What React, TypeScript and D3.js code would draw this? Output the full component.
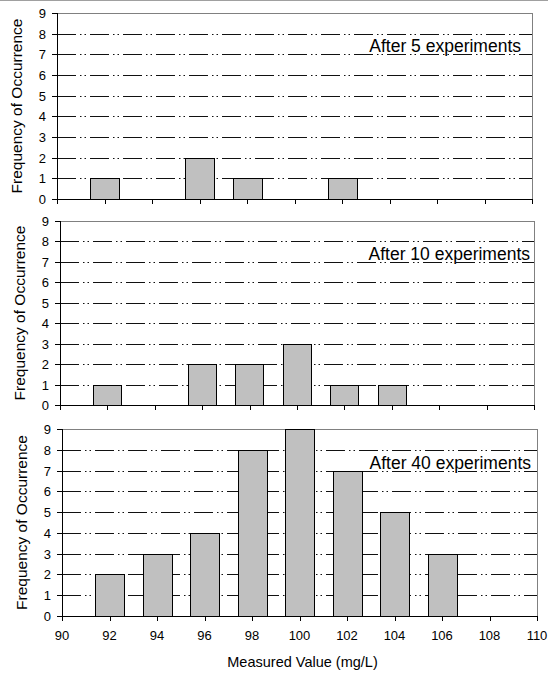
import * as d3 from "d3";

// histogram bins (mg/L) and counts per stage
const binCenters = [92, 94, 96, 98, 100, 102, 104, 106, 108];
const counts5 = [1, 0, 2, 1, 0, 1, 0, 0, 0];
const counts10 = [1, 0, 2, 2, 3, 1, 1, 0, 0];
const counts40 = [2, 3, 4, 8, 9, 7, 5, 3, 0];
const panelLabels = ["After 5 experiments", "After 10 experiments", "After 40 experiments"];
const xTicks = [90, 92, 94, 96, 98, 100, 102, 104, 106, 108, 110];
const yTicks = [0, 1, 2, 3, 4, 5, 6, 7, 8, 9];
const gridValues = [1, 2, 3, 4, 5, 6, 7, 8];

const W = 548;
const H = 675;
const font = "Arial, 'Liberation Sans', sans-serif";

// plot boxes of the three panels
const panels = [
  { left: 57, right: 532, top: 13, bottom: 199, labelPad: 11, counts: counts5 },
  { left: 60, right: 534, top: 221, bottom: 405, labelPad: 4, counts: counts10 },
  { left: 62, right: 537, top: 429, bottom: 616, labelPad: 6, counts: counts40 },
];

const Panel = ({ p, label, showLabels }) => {
  const x = d3.scaleLinear().domain([90, 110]).range([p.left, p.right]);
  const y = d3.scaleLinear().domain([0, 9]).range([p.bottom, p.top]);
  const barW = x(91.2) - x(90);
  const data = binCenters.map((b, i) => ({ b, v: p.counts[i] }));

  return (
    <g>
      {/* grid lines */}
      {gridValues.map((g) => (
        <line key={g} x1={p.left} x2={p.right} y1={Math.round(y(g)) + 0.5} y2={Math.round(y(g)) + 0.5}
          stroke="#111" strokeWidth={1} strokeDasharray="19,4,1.5,3,1.5,4" />
      ))}
      {/* plot border top/right */}
      <line x1={p.left} x2={p.right} y1={Math.round(p.top) + 0.5} y2={Math.round(p.top) + 0.5} stroke="#808080" />
      <line x1={p.right + 0.5} x2={p.right + 0.5} y1={p.top} y2={p.bottom} stroke="#808080" />
      {/* bars */}
      {data.filter((d) => d.v > 0).map((d) => (
        <rect key={d.b} x={Math.round(x(d.b) - barW / 2) + 0.5} y={Math.round(y(d.v)) + 0.5}
          width={Math.round(barW)} height={Math.round(y(0)) - Math.round(y(d.v))}
          fill="#c0c0c0" stroke="#000" strokeWidth={1} />
      ))}
      {/* y axis */}
      <line x1={p.left + 0.5} x2={p.left + 0.5} y1={p.top} y2={p.bottom + 1} stroke="#000" />
      {yTicks.map((t) => (
        <g key={t}>
          <line x1={p.left - 5} x2={p.left} y1={Math.round(y(t)) + 0.5} y2={Math.round(y(t)) + 0.5} stroke="#000" />
          <text x={p.left - 11} y={y(t) + 5} textAnchor="end" fontSize={13} fontFamily={font}>{t}</text>
        </g>
      ))}
      {/* x axis */}
      <line x1={p.left} x2={p.right + 1} y1={Math.round(p.bottom) + 0.5} y2={Math.round(p.bottom) + 0.5} stroke="#000" />
      {xTicks.map((t) => (
        <g key={t}>
          <line x1={Math.round(x(t)) + 0.5} x2={Math.round(x(t)) + 0.5} y1={p.bottom} y2={p.bottom + 5} stroke="#000" />
          {showLabels && (
            <text x={x(t)} y={p.bottom + 24} textAnchor="middle" fontSize={13} fontFamily={font}>{t}</text>
          )}
        </g>
      ))}
      <text transform={`translate(${p.left - 35},${(p.top + p.bottom) / 2}) rotate(-90)`} textAnchor="middle"
        fontSize={15.5} fontFamily={font}>Frequency of Occurrence</text>
      <text x={p.right - p.labelPad} y={y(7) - 2} textAnchor="end" fontSize={17.5} fontFamily={font}>{label}</text>
    </g>
  );
};

export default function App() {
  const last = panels[panels.length - 1];
  return (
    <svg width={W} height={H} style={{ position: "absolute", left: 0, top: 0, background: "#fff" }}>
      <rect width={W} height={H} fill="#fff" />
      <line x1={0} x2={W} y1={0.5} y2={0.5} stroke="#a0a0a0" />
      {panels.map((p, i) => (
        <Panel key={i} p={p} label={panelLabels[i]} showLabels={i === panels.length - 1} />
      ))}
      <text x={(last.left + last.right) / 2 + 3} y={667} textAnchor="middle" fontSize={14.5} fontFamily={font}>
        Measured Value (mg/L)
      </text>
    </svg>
  );
}
